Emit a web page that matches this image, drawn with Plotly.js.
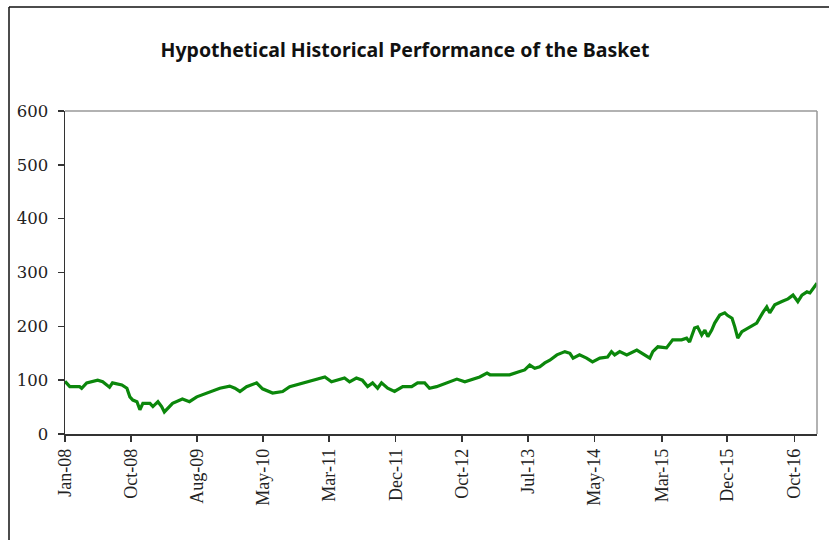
<!DOCTYPE html>
<html>
<head>
<meta charset="utf-8">
<script src="https://cdn.plot.ly/plotly-3.0.1.min.js"></script>
<style>html,body{margin:0;padding:0;background:#fff;}#chart{width:829px;height:540px;}</style>
</head>
<body>
<div id="chart"></div>
<script>
const dates = [
"2008-01-02","2008-01-23","2008-03-06","2008-03-15","2008-04-06","2008-05-24","2008-06-15","2008-07-15","2008-07-28","2008-09-07",
"2008-09-29","2008-10-12","2008-10-25","2008-11-12","2008-11-25","2008-12-08","2009-01-08","2009-01-21","2009-02-12","2009-02-28",
"2009-03-12","2009-04-17","2009-05-30","2009-06-30","2009-08-01","2009-09-27","2009-11-10","2009-12-23","2010-01-15","2010-02-06",
"2010-03-07","2010-04-20","2010-05-16","2010-06-29","2010-08-12","2010-09-12","2010-10-25","2010-12-08","2011-01-09","2011-02-13",
"2011-03-14","2011-04-09","2011-05-10","2011-06-01","2011-07-01","2011-07-27","2011-08-19","2011-09-10","2011-10-02","2011-10-19",
"2011-11-15","2011-12-15","2012-01-20","2012-02-28","2012-03-25","2012-04-25","2012-05-16","2012-06-16","2012-07-30","2012-09-13",
"2012-10-18","2012-11-18","2012-12-22","2013-01-23","2013-02-05","2013-03-19","2013-05-02","2013-06-15","2013-07-07","2013-07-29",
"2013-08-20","2013-09-11","2013-10-03","2013-10-25","2013-11-25","2013-12-30","2014-01-21","2014-02-04","2014-03-04","2014-04-04",
"2014-04-30","2014-06-01","2014-07-05","2014-07-22","2014-08-05","2014-08-27","2014-09-27","2014-11-10","2014-12-02","2015-01-06",
"2015-01-19","2015-02-10","2015-03-20","2015-04-16","2015-05-25","2015-06-16","2015-06-29","2015-07-21","2015-08-03","2015-08-21",
"2015-09-04","2015-09-17","2015-10-04","2015-10-17","2015-11-08","2015-11-30","2015-12-13","2016-01-01","2016-01-13","2016-01-26",
"2016-02-13","2016-03-18","2016-04-18","2016-05-14","2016-06-01","2016-06-14","2016-07-06","2016-08-06","2016-09-02","2016-09-24",
"2016-10-15","2016-11-02","2016-11-24","2016-12-07","2016-12-29","2017-01-07"
];
const basketValues = [
98,88,88,85,95,100,97,87,95,91,
85,69,63,60,45,57,57,51,60,51,
41,57,65,60,69,78,85,89,85,79,
88,95,84,76,79,88,93,97,102,106,
97,100,104,97,104,100,88,95,85,95,
85,79,88,88,95,95,85,88,95,102,
97,102,106,113,110,110,110,116,119,128,
122,125,132,137,147,153,150,141,147,141,
134,141,143,153,147,153,147,156,150,141,
153,162,160,175,175,178,171,197,199,184,
193,181,193,206,221,225,220,215,199,178,
190,199,206,225,236,225,240,246,251,258,
246,258,264,262,274,280
];
const tickDates = ["2008-01-02","2008-10-17","2009-08-03","2010-05-18","2011-03-04","2011-12-20","2012-10-06","2013-07-22","2014-05-08","2015-03-01","2015-12-10","2016-10-01"];
const tickLabels = ["Jan-08","Oct-08","Aug-09","May-10","Mar-11","Dec-11","Oct-12","Jul-13","May-14","Mar-15","Dec-15","Oct-16"];
const yTicks = [0,100,200,300,400,500,600];

const xFont = {family: "'Liberation Serif', 'Times New Roman', serif", size: 18, color: "#222"};
const yFont = {family: "'DejaVu Serif', serif", size: 16.5, color: "#222"};

const trace = {
  x: dates, y: basketValues, type: "scatter", mode: "lines",
  line: {color: "#0b870b", width: 3.2}, hoverinfo: "skip"
};

const layout = {
  width: 829, height: 540,
  margin: {l: 65, r: 12, t: 111, b: 106, pad: 0},
  paper_bgcolor: "#fff", plot_bgcolor: "#fff",
  showlegend: false,
  title: {
    text: "<b>Hypothetical Historical Performance of the Basket</b>",
    font: {family: "'Noto Sans', 'Open Sans', sans-serif", size: 19.5, color: "#111"},
    xref: "container", yref: "container", x: 405/829, xanchor: "center", y: 1 - 50/540, yanchor: "middle"
  },
  xaxis: {
    type: "date", range: ["2008-01-02", "2017-01-07"],
    tickvals: tickDates, ticktext: tickLabels, tickangle: -90,
    ticks: "outside", ticklen: 6, tickcolor: "#333", tickwidth: 1.5,
    showline: true, linecolor: "#333", linewidth: 1.5,
    showgrid: false, zeroline: false, tickfont: xFont, fixedrange: true
  },
  yaxis: {
    range: [0, 600], tickvals: yTicks,
    ticks: "outside", ticklen: 6, tickcolor: "#333", tickwidth: 1.5,
    showline: true, linecolor: "#333", linewidth: 1.5,
    showgrid: false, zeroline: false, tickfont: yFont, ticklabelstandoff: 6, fixedrange: true
  },
  shapes: [
    {type: "line", xref: "paper", yref: "paper", x0: 0, x1: 1, y0: 1, y1: 1, line: {color: "#999", width: 1.5}},
    {type: "line", xref: "paper", yref: "paper", x0: 1, x1: 1, y0: 0, y1: 1, line: {color: "#999", width: 1.5}},
    {type: "line", xref: "paper", yref: "paper", x0: (9-65)/752, x1: (829-65)/752, y0: (434-7)/323, y1: (434-7)/323, line: {color: "#111", width: 1.5}},
    {type: "line", xref: "paper", yref: "paper", x0: (9-65)/752, x1: (9-65)/752, y0: (434-7)/323, y1: (434-540)/323, line: {color: "#111", width: 1.5}}
  ]
};

Plotly.newPlot("chart", [trace], layout, {displayModeBar: false, staticPlot: true});
</script>
</body>
</html>
